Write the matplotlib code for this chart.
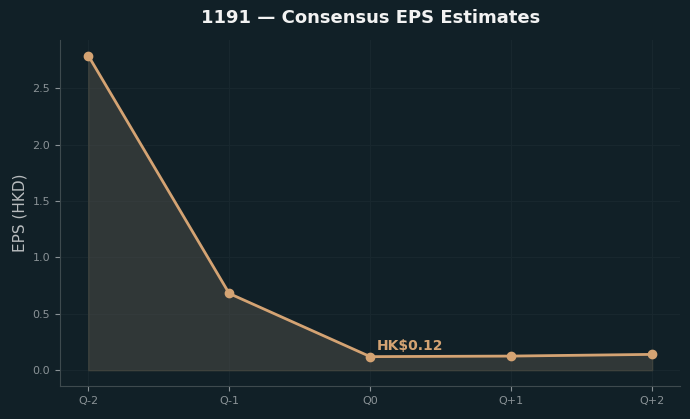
import numpy as np
import matplotlib
matplotlib.use('Agg')
from matplotlib import pyplot as plt

# dados
quarters = ['Q-2', 'Q-1', 'Q0', 'Q+1', 'Q+2']
eps = [2.79, 0.68, 0.12, 0.125, 0.14]

bg = '#112027'
line_col = '#d4a373'

fig, ax = plt.subplots(figsize=(6.9, 4.19), dpi=100)
fig.patch.set_facecolor(bg)
ax.set_facecolor(bg)

x = np.arange(len(quarters))
ax.fill_between(x, eps, 0, color='#4a4a46', alpha=0.55, edgecolor='#4f4f44', linewidth=1)
ax.plot(x, eps, color=line_col, linewidth=2, marker='o', markersize=6)

# label do trimestre atual
ax.annotate(f'HK${eps[2]:.2f}', (x[2], eps[2]), xytext=(5, 5), textcoords='offset points',
            color=line_col, fontsize=10, fontweight='bold')

ax.set_xticks(x)
ax.set_xticklabels(quarters)
ax.set_ylabel('EPS (HKD)', color='#b8bcbe', fontsize=11)
ax.set_title('1191 — Consensus EPS Estimates', color='#f2f2f2', fontsize=13, fontweight='bold', pad=12)

ax.tick_params(colors='#8a9296', labelsize=8)
for s in ['top', 'right']:
    ax.spines[s].set_visible(False)
for s in ['left', 'bottom']:
    ax.spines[s].set_color('#3e4a4e')
ax.grid(True, color='#18272e', linewidth=0.8)
ax.set_axisbelow(True)

plt.subplots_adjust(left=0.087, right=0.986, top=0.905, bottom=0.079)
plt.savefig('out.png', facecolor=bg)
